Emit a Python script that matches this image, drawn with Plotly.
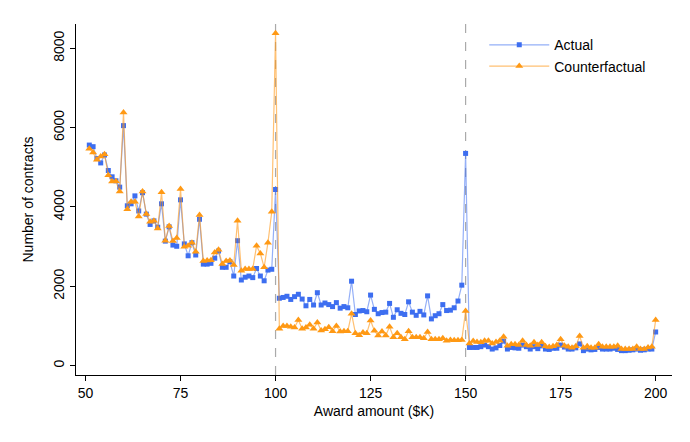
import plotly.graph_objects as go

# award amounts in $K
award = list(range(51, 201))

actual = [
    5560, 5520, 5220, 5110, 5310, 4920, 4760, 4660, 4500, 6050,
    4030, 4080, 4280, 3900, 4360, 3820, 3560, 3650, 3490, 4080,
    3140, 3500, 3040, 3010, 4180, 3070, 2770, 3100, 2790, 3690,
    2560, 2560, 2580, 2710, 2890, 2480, 2480, 2620, 2260, 3150,
    2160, 2230, 2260, 2220, 2450, 2260, 2140, 2410, 2430, 4440,
    1700, 1720, 1750, 1670, 1740, 1800, 1680, 1510, 1670, 1530,
    1840, 1530, 1580, 1540, 1490, 1590, 1450, 1490, 1460, 2130,
    1290, 1380, 1390, 1360, 1780, 1420, 1310, 1340, 1350, 1570,
    1220, 1410, 1320, 1290, 1610, 1350, 1270, 1370, 1280, 1760,
    1180, 1260, 1310, 1540, 1390, 1400, 1460, 1630, 2030, 5350,
    460, 460, 460, 480, 520, 480, 420, 450, 510, 620,
    420, 460, 450, 440, 520, 480, 420, 480, 430, 500,
    420, 410, 440, 440, 520, 470, 420, 420, 450, 550,
    380, 420, 400, 410, 460, 420, 420, 420, 440, 410,
    380, 380, 390, 400, 420, 390, 400, 420, 420, 850,
]

counterfactual = [
    5470, 5370, 5190, 5270, 5330, 4800, 4640, 4650, 4390, 6380,
    3940, 4130, 4130, 3760, 4390, 3820, 3630, 3650, 3460, 4370,
    3150, 3520, 3140, 3220, 4450, 3000, 3020, 3100, 2870, 3800,
    2640, 2650, 2660, 2850, 2920, 2560, 2640, 2650, 2540, 3650,
    2390, 2440, 2440, 2440, 3020, 2830, 2480, 3100, 3880, 8380,
    930, 1000, 1000, 980, 960, 1150, 930, 960, 1030, 930,
    1090, 890, 920, 970, 870, 1000, 860, 870, 870, 1310,
    820, 770, 840, 820, 1140, 880, 760, 860, 760, 980,
    720, 820, 720, 670, 870, 720, 720, 720, 690, 850,
    670, 670, 670, 690, 630, 650, 640, 640, 650, 1380,
    560, 620, 600, 590, 630, 630, 560, 600, 630, 730,
    500, 540, 540, 520, 630, 520, 500, 590, 520, 590,
    490, 470, 490, 520, 670, 500, 480, 450, 490, 750,
    450, 490, 450, 450, 540, 480, 480, 480, 480, 500,
    420, 420, 420, 420, 480, 420, 420, 460, 480, 1150,
]

cutoffs = [100, 150]

fig = go.Figure()

fig.add_trace(go.Scatter(
    x=award, y=actual, name="Actual", mode="lines+markers",
    line=dict(color="rgba(61,110,240,0.55)", width=1.2),
    marker=dict(symbol="square", size=5, color="#3d6ef0"),
))
fig.add_trace(go.Scatter(
    x=award, y=counterfactual, name="Counterfactual", mode="lines+markers",
    line=dict(color="rgba(255,150,20,0.6)", width=1.2),
    marker=dict(symbol="triangle-up", size=7, color="#ff9914"),
))

# dashed reference lines at the thresholds
for c in cutoffs:
    fig.add_shape(type="line", x0=c, x1=c, y0=0, y1=1, yref="paper",
                  line=dict(color="#aaaaaa", width=1.2, dash="dash"), layer="below")

# page body has an 8px margin, so the figure is sized a bit smaller than the window
fig.update_layout(
    width=682, height=434,
    margin=dict(l=68, r=18, t=16, b=67),
    plot_bgcolor="white", paper_bgcolor="white",
    font=dict(family="Liberation Sans, Arial, sans-serif", size=13, color="black"),
    showlegend=True,
    legend=dict(x=0.685, y=0.985, xanchor="left", yanchor="top",
                bgcolor="rgba(0,0,0,0)", itemwidth=60, tracegroupgap=0,
                font=dict(size=14)),
)
fig.update_xaxes(
    range=[47.5, 204.3], tickvals=[50, 75, 100, 125, 150, 175, 200],
    showline=True, linecolor="black", linewidth=1, automargin=False,
    ticks="outside", ticklen=5, tickcolor="black", showgrid=False, zeroline=False,
    tickfont=dict(size=14),
    title=dict(text="Award amount ($K)", standoff=6, font=dict(size=14)),
)
fig.update_yaxes(
    range=[-234, 8611], tickvals=[0, 2000, 4000, 6000, 8000], tickangle=-90,
    showline=True, linecolor="black", linewidth=1, automargin=False,
    ticks="outside", ticklen=5, tickcolor="black", showgrid=False, zeroline=False,
    tickfont=dict(size=14),
    title=dict(text="Number of contracts", standoff=14, font=dict(size=14)),
)

fig.write_html("out.html")
